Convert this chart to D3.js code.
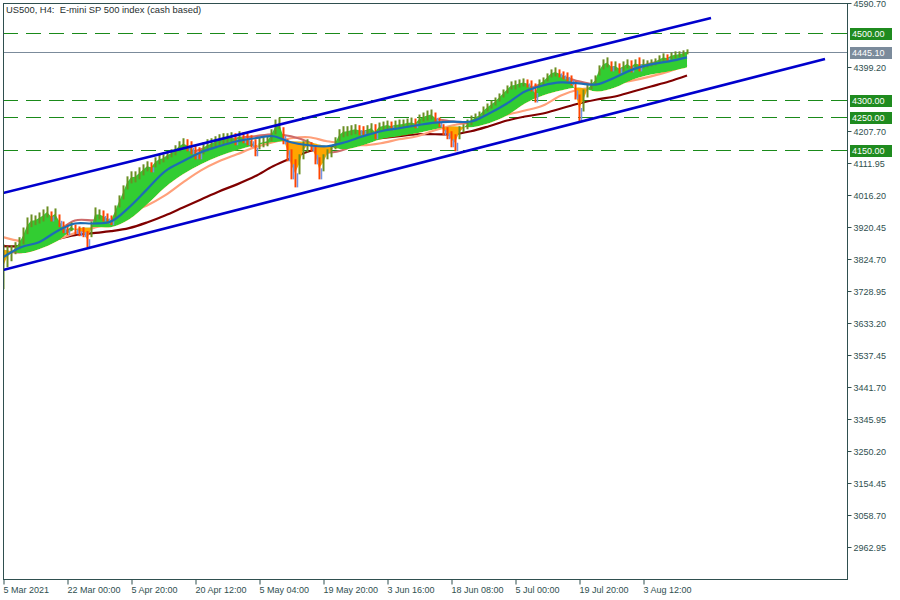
<!DOCTYPE html>
<html><head><meta charset="utf-8">
<script src="https://cdn.jsdelivr.net/npm/d3@7"></script>
<style>body{margin:0;background:#fff} svg{display:block}</style>
</head><body><svg id="c" width="900" height="600"></svg>
<script>
const titleText = "US500, H4:  E-mini SP 500 index (cash based)";
const timeLabels = ["5 Mar 2021","22 Mar 00:00","5 Apr 20:00","20 Apr 12:00","5 May 04:00","19 May 20:00","3 Jun 16:00","18 Jun 08:00","5 Jul 00:00","19 Jul 20:00","3 Aug 12:00"];
const priceTicks = [4590.70, 4399.20, 4207.70, 4111.95, 4016.20, 3920.45, 3824.70, 3728.95, 3633.20, 3537.45, 3441.70, 3345.95, 3250.20, 3154.45, 3058.70, 2962.95];
const levels = [4500, 4300, 4250, 4150];
const lastPrice = 4445.10;
const barStep = 4, maStep = 18, labelEvery = 64;

const priceHigh = [
3869,3863,3866,3875,3890,3919,3949,3958,3955,3964,
3973,3982,3967,3976,3958,3937,3928,3934,3928,3922,
3920,3908,3937,3979,3973,3970,3961,3955,3985,4015,
4045,4072,4087,4087,4099,4108,4117,4114,4129,4138,
4138,4147,4153,4165,4177,4186,4183,4177,4165,4159,
4174,4183,4186,4192,4198,4201,4201,4204,4201,4207,
4204,4201,4195,4183,4189,4189,4192,4213,4242,4248,
4219,4183,4153,4123,4138,4177,4183,4174,4165,4129,
4138,4153,4162,4189,4213,4222,4222,4225,4228,4225,
4222,4225,4231,4228,4233,4236,4239,4236,4239,4242,
4242,4245,4248,4245,4257,4263,4269,4272,4263,4248,
4228,4219,4207,4198,4222,4228,4242,4254,4260,4266,
4281,4290,4299,4308,4320,4332,4344,4356,4359,4362,
4365,4362,4359,4350,4362,4368,4380,4392,4398,4392,
4386,4383,4374,4356,4317,4332,4350,4362,4374,4404,
4422,4428,4416,4416,4410,4416,4422,4419,4422,4428,
4422,4419,4422,4425,4434,4440,4437,4443,4446,4446,
4449,4452];
const priceLow = [
3734,3800,3818,3839,3854,3869,3899,3920,3926,3931,
3937,3949,3937,3943,3920,3902,3896,3908,3899,3893,
3890,3860,3890,3937,3943,3937,3931,3926,3949,3979,
4003,4033,4051,4054,4063,4075,4087,4084,4099,4108,
4114,4123,4129,4135,4147,4153,4147,4138,4123,4123,
4138,4147,4153,4159,4165,4168,4171,4171,4165,4174,
4171,4165,4159,4132,4153,4159,4162,4177,4198,4213,
4168,4117,4063,4039,4078,4123,4144,4147,4108,4063,
4087,4123,4129,4153,4177,4189,4192,4195,4198,4195,
4195,4198,4201,4183,4207,4210,4213,4210,4213,4213,
4216,4219,4219,4216,4228,4236,4239,4242,4231,4219,
4195,4183,4159,4147,4183,4204,4213,4225,4236,4242,
4254,4266,4275,4284,4296,4308,4320,4332,4332,4338,
4341,4338,4326,4293,4338,4344,4356,4368,4371,4368,
4362,4356,4344,4302,4236,4266,4308,4332,4344,4374,
4392,4398,4386,4389,4380,4386,4395,4383,4398,4386,
4395,4398,4401,4404,4410,4416,4416,4422,4425,4428,
4431,4437];

const maFast = [3830,3860,3875,3908,3931,3931,3937,3979,4033,4087,4117,4144,4162,4177,4186,4192,4174,4165,4162,4174,4192,4207,4216,4225,4233,4236,4236,4260,4290,4326,4344,4353,4350,4347,4368,4392,4407,4416,4428];
const maSlow = [3890,3878,3878,3884,3902,3917,3934,3964,3985,4015,4054,4090,4117,4138,4159,4174,4186,4189,4177,4171,4165,4171,4183,4192,4210,4225,4233,4245,4257,4269,4284,4314,4332,4338,4350,4359,4371,4386,4407];
const maMid = [3848,3845,3860,3905,3940,3940,3937,3979,4039,4099,4132,4153,4171,4186,4192,4198,4192,4174,4144,4153,4183,4204,4219,4228,4242,4236,4233,4263,4296,4329,4350,4368,4356,4347,4362,4392,4410,4422,4434];
const maLong = [3863,3863,3869,3884,3896,3902,3908,3917,3934,3955,3979,4003,4027,4048,4072,4102,4126,4147,4159,4171,4180,4186,4192,4198,4198,4198,4207,4222,4239,4251,4260,4275,4290,4302,4311,4326,4341,4356,4374];
const ribbonBase = [3854,3842,3854,3878,3914,3920,3920,3943,3988,4039,4078,4108,4132,4150,4165,4174,4177,4174,4162,4153,4165,4183,4192,4201,4213,4222,4219,4231,4254,4290,4314,4329,4338,4326,4338,4362,4377,4386,4398];

const channelUpper = [[0, 4022.2], [708, 4545.8]];
const channelLower = [[0, 3791.8], [822, 4423.1]];

const W = 900, H = 600;
const L = 3, R = 847, T = 3, B = 579;
const svg = d3.select('#c');
const x = d3.scaleLinear().domain([0, R - L]).range([L, R]);
const y = d3.scaleLinear().domain([2867.2, 4590.7]).range([B, T]);
const frameColor = '#2f4f4f';
const fontFam = "'Liberation Sans', Arial, sans-serif";

const defs = svg.append('defs');
defs.append('clipPath').attr('id','plot').append('rect').attr('x',L).attr('y',T).attr('width',R-L).attr('height',B-T);

const barIdx = priceHigh.map((_, i) => i * barStep);
const mid = priceHigh.map((h, i) => (h + priceLow[i]) / 2);
const maX = (d, i) => x(i * maStep);
const curve = d3.curveCatmullRom.alpha(0.5);

const basePts = ribbonBase.map((b, i) => [x(i * maStep), y(b)]);
defs.append('clipPath').attr('id','above').append('path')
  .attr('d', d3.area().x(d=>d[0]).y0(0).y1(d=>d[1]).curve(curve)(basePts));
defs.append('clipPath').attr('id','below').append('path')
  .attr('d', d3.area().x(d=>d[0]).y0(H).y1(d=>d[1]).curve(curve)(basePts));

const g = svg.append('g').attr('clip-path','url(#plot)');

// horizontal levels
g.selectAll('line.lvl').data(levels).join('line')
  .attr('x1', L).attr('x2', R).attr('y1', d => Math.round(y(d)) + 0.5).attr('y2', d => Math.round(y(d)) + 0.5)
  .attr('stroke', '#1a8a1a').attr('stroke-width', 1).attr('stroke-dasharray', '15,8');
// last price line
g.append('line').attr('x1', L).attr('x2', R)
  .attr('y1', Math.round(y(lastPrice)) + 0.5).attr('y2', Math.round(y(lastPrice)) + 0.5)
  .attr('stroke', '#7b8b9b').attr('stroke-width', 1);

// moving averages behind ribbon
const maLine = d3.line().x(maX).y(d => y(d)).curve(curve);
g.append('path').attr('d', maLine(maLong)).attr('fill','none').attr('stroke','#800000').attr('stroke-width',2.2);
g.append('path').attr('d', maLine(maSlow)).attr('fill','none').attr('stroke','#ffa07a').attr('stroke-width',2.2);
g.append('path').attr('d', maLine(maMid)).attr('fill','none').attr('stroke','#cd6b6b').attr('stroke-width',2.2);

// ribbon fill: green where price is above the base, orange where it sinks below it
const basePath = d3.line().curve(curve)(basePts.slice().reverse()).replace(/^M/, 'L');
const ribbonPath = d3.line()(mid.map((m, i) => [x(barIdx[i]), y(m)])) + basePath + 'Z';
g.append('path').attr('d', ribbonPath).attr('fill', '#32cd32').attr('fill-rule','evenodd').attr('clip-path','url(#above)');
g.append('path').attr('d', ribbonPath).attr('fill', '#ffa500').attr('fill-rule','evenodd').attr('clip-path','url(#below)');

// price bars
const isDown = (i) => i > 0 && mid[i] < mid[i - 1];
g.selectAll('line.bar').data(priceHigh).join('line')
  .attr('x1', (d, i) => x(barIdx[i]) + 0.5).attr('x2', (d, i) => x(barIdx[i]) + 0.5)
  .attr('y1', d => y(d)).attr('y2', (d, i) => y(priceLow[i]))
  .attr('stroke', (d, i) => isDown(i) ? '#ff4500' : '#6b8e23')
  .attr('stroke-width', 2);
// bodies of falling bars
g.selectAll('line.body').data(priceHigh.map((d, i) => i).filter(isDown)).join('line')
  .attr('x1', i => x(barIdx[i]) + 2.5).attr('x2', i => x(barIdx[i]) + 2.5)
  .attr('y1', i => y(mid[i])).attr('y2', i => y(priceLow[i]))
  .attr('stroke', '#6f94e6').attr('stroke-width', 1.5);

// fast MA on top
g.append('path').attr('d', maLine(maFast)).attr('fill','none').attr('stroke','#1c6db5').attr('stroke-width',2.2);

// channel lines
const chLine = d3.line().x(d => x(d[0])).y(d => y(d[1]));
[channelUpper, channelLower].forEach(c => {
  g.append('path').attr('d', chLine(c)).attr('fill','none').attr('stroke','#0000cd').attr('stroke-width',2.6);
});

// frame
svg.append('rect').attr('x', L + 0.5).attr('y', T + 0.5).attr('width', R - L).attr('height', B - T)
  .attr('fill','none').attr('stroke', frameColor).attr('stroke-width',1);

// right axis
const yAxis = d3.axisRight(y).tickValues(priceTicks).tickSize(4).tickPadding(2).tickFormat(d3.format('.2f'));
const ya = svg.append('g').attr('transform', `translate(${R + 0.5},0)`).call(yAxis);
ya.select('.domain').remove();
ya.selectAll('line').attr('stroke', frameColor);
ya.selectAll('text').attr('fill', frameColor).attr('y', 1).style('font-family', fontFam).style('font-size','9px');

// bottom axis
const xAxis = d3.axisBottom(x).tickValues(timeLabels.map((_, i) => i * labelEvery)).tickSize(5).tickPadding(2)
  .tickFormat((d, i) => timeLabels[i]);
const xa = svg.append('g').attr('transform', `translate(0.5,${B + 0.5})`).call(xAxis);
xa.select('.domain').remove();
xa.selectAll('line').attr('stroke', frameColor);
xa.selectAll('text').attr('fill', frameColor).attr('text-anchor','start').attr('dx', '-0.5')
  .style('font-family', fontFam).style('font-size','9px');

// level labels
levels.forEach(v => {
  const yy = Math.round(y(v));
  svg.append('line').attr('x1', R - 5).attr('x2', R).attr('y1', yy + 0.5).attr('y2', yy + 0.5).attr('stroke','#1a8a1a');
  svg.append('rect').attr('x', R + 3).attr('y', yy - 5).attr('width', 42).attr('height', 12).attr('fill','#1f8b1f');
  svg.append('text').attr('x', R + 5).attr('y', yy + 4).text(d3.format('.2f')(v))
    .attr('fill','#fff').style('font-family', fontFam).style('font-size','9px');
});
{
  const yy = Math.round(y(lastPrice));
  svg.append('rect').attr('x', R + 3).attr('y', yy - 5).attr('width', 42).attr('height', 12).attr('fill','#7b8b9b');
  svg.append('text').attr('x', R + 5).attr('y', yy + 4).text(d3.format('.2f')(lastPrice))
    .attr('fill','#fff').style('font-family', fontFam).style('font-size','9px');
}

// title
svg.append('text').attr('x', 6).attr('y', 13).attr('xml:space','preserve').style('white-space','pre')
  .text(titleText).attr('fill', '#1f2f2f').style('font-family', fontFam).style('font-size','9.4px');
</script></body></html>
